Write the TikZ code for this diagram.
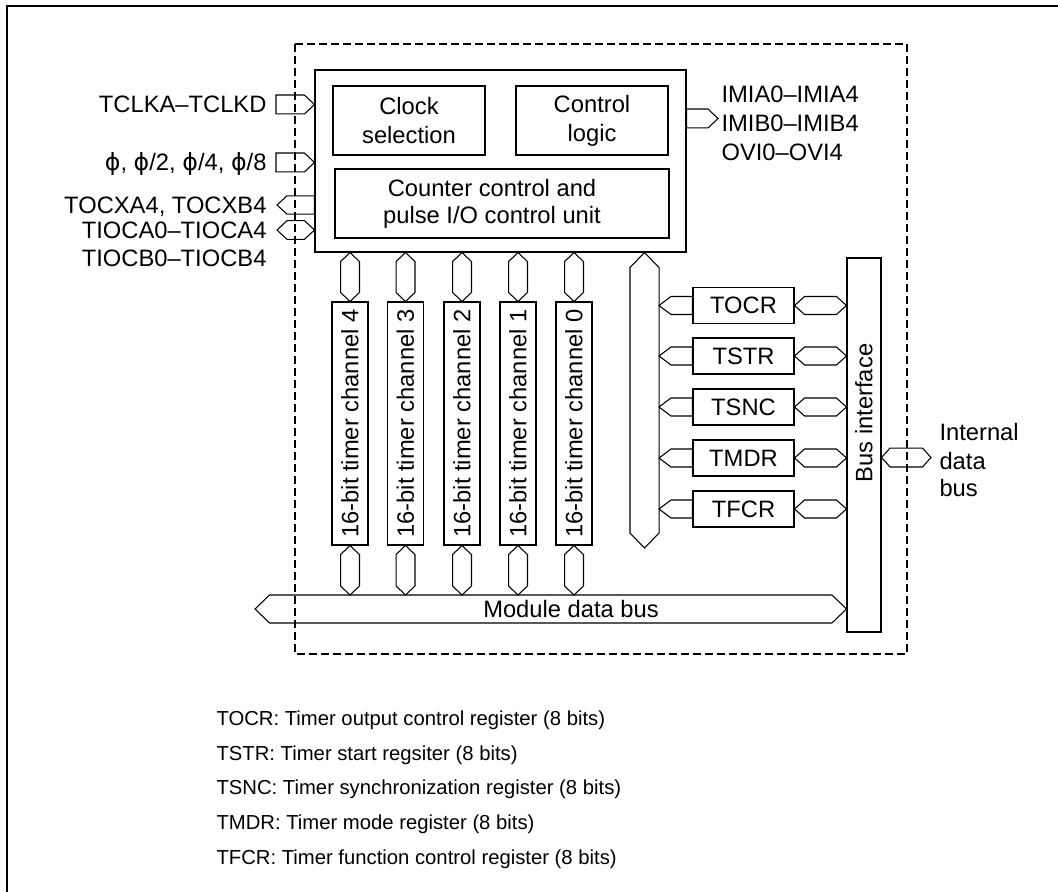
\documentclass[tikz,border=0pt]{standalone}
\usepackage{fontspec}
\setmainfont{Liberation Sans}
\newfontfamily\dvs{DejaVu Sans}
\usetikzlibrary{calc}
\newcommand\phisym{{\dvs ϕ}}
% bus-arrow shapes
\newcommand\rarr[4]{\draw[bus] let \p1=#1, \p2=#2 in (\x1,\y1+#3) -- (\x2-#4,\y1+#3) -- (\x2,\y1) -- (\x2-#4,\y1-#3) -- (\x1,\y1-#3) -- cycle;}
\newcommand\larr[4]{\draw[bus] let \p1=#1, \p2=#2 in (\x1,\y1) -- (\x1+#4,\y1+#3) -- (\x2,\y1+#3) -- (\x2,\y1-#3) -- (\x1+#4,\y1-#3) -- cycle;}
\newcommand\hdbl[4]{\draw[bus] let \p1=#1, \p2=#2 in (\x1,\y1) -- (\x1+#4,\y1+#3) -- (\x2-#4,\y1+#3) -- (\x2,\y1) -- (\x2-#4,\y1-#3) -- (\x1+#4,\y1-#3) -- cycle;}
\newcommand\vdbl[4]{\draw[bus] let \p1=#1, \p2=#2 in (\x1,\y1) -- (\x1+#3,\y1-#4) -- (\x1+#3,\y2+#4) -- (\x1,\y2) -- (\x1-#3,\y2+#4) -- (\x1-#3,\y1-#4) -- cycle;}
\begin{document}
\begin{tikzpicture}[x=0.75pt,y=-0.75pt,line width=0.8pt]
\tikzset{
  lbl/.style={font=\fontsize{17.8}{21.75}\selectfont, inner sep=0pt},
  box/.style={draw, inner sep=0pt, align=center, font=\fontsize{17.8}{21.75}\selectfont},
  wh/.style 2 args={minimum width=#1*0.75pt, minimum height=#2*0.75pt},
  bus/.style={draw, line width=0.8pt},
  note/.style={font=\fontsize{15.2}{18}\selectfont, anchor=base west, inner sep=0pt},
  lE/.style={lbl, anchor=base east},
  lW/.style={lbl, anchor=base west},
}
\useasboundingbox (0,0) rectangle (1058,892);
\draw (7,892) -- (7,6) -- (1058,6);
\draw[dash pattern=on 6pt off 3pt] (295,44) rectangle (907,654);

% control unit
\node[box, wh={371}{182}] (main) at (500.5,161) {};
\node[box, wh={152}{69}] (clk) at (409,120.5) {Clock\\selection};
\node[box, wh={152}{69}] (ctl) at (592,120.5) {Control\\logic};
\node[box, wh={334}{69}] (cnt) at (502,203.5) {};
\node[lbl, align=center, font=\fontsize{17.8}{20.25}\selectfont] (cnttxt) at (492,203.5) {Counter control and\\pulse I/O control unit};

% bus interface
\node[box, wh={34}{374}] (busif) at (864,445) {};
\node[lbl] (busiftxt) at (864,413) {\rotatebox{90}{Bus interface}};

% module data bus
\coordinate (mdbL) at (255,609);
\coordinate (mdbtop) at (0,595);
\hdbl{(mdbL)}{(busif.west |- mdbL)}{10.5pt}{10.9pt}
\node[lbl] (mdbtxt) at (571,609) {Module data bus};

% timer channels
\foreach \cn/\xx in {4/350,3/405.5,2/462,1/518,0/574} {
  \node[box, wh={36}{243}] (ch\cn) at (\xx,423.5) {\rotatebox{90}{16-bit timer channel \cn}};
  \vdbl{(main.south -| ch\cn.north)}{(ch\cn.north)}{7.1pt}{6.75pt}
  \vdbl{(ch\cn.south)}{(ch\cn.south |- mdbtop)}{7.1pt}{6.75pt}
}

% internal vertical bus
\coordinate (vbx) at (644.5,548);
\vdbl{(main.south -| vbx)}{(vbx)}{10.9pt}{11.25pt}
\coordinate (vbR) at (659,0);

% registers
\foreach \rg/\yy in {TOCR/305.5,TSTR/356,TSNC/407,TMDR/458,TFCR/509} {
  \node[box, wh={101}{36}] (\rg) at (743.5,\yy) {\rg};
  \larr{(vbR |- \rg.west)}{(\rg.west)}{6.75pt}{9pt}
  \hdbl{(\rg.east)}{(busif.west |- \rg.east)}{6.75pt}{7.5pt}
}

% left ports
\coordinate (pA) at (276,104.5);
\coordinate (pB) at (276,162.5);
\coordinate (pC) at (277,205);
\coordinate (pD) at (277,230);
\rarr{(pA)}{(main.west |- pA)}{7.1pt}{7.5pt}
\rarr{(pB)}{(main.west |- pB)}{7.1pt}{7.5pt}
\larr{(pC)}{(main.west |- pC)}{6.9pt}{7.5pt}
\hdbl{(pD)}{(main.west |- pD)}{7pt}{7.5pt}
\node[lE] (tA) at (267,113) {TCLKA–TCLKD};
\node[lE] (tB) at (267,171) {\phisym, \phisym/2, \phisym/4, \phisym/8};
\node[lE] (tC) at (267,213.6) {TOCXA4, TOCXB4};
\node[lE] (tD) at (267,238.6) {TIOCA0–TIOCA4};
\node[lE] (tE) at (267,266.6) {TIOCB0–TIOCB4};

% right port
\coordinate (pE) at (718,118.5);
\rarr{(main.east |- pE)}{(pE)}{7.1pt}{7.5pt}
\node[lW] (tF) at (721,102.6) {IMIA0–IMIA4};
\node[lW] (tG) at (721,131.6) {IMIB0–IMIB4};
\node[lW] (tH) at (721,160.6) {OVI0–OVI4};

% internal data bus
\coordinate (pF) at (931,457.5);
\hdbl{(busif.east |- pF)}{(pF)}{7.1pt}{6.4pt}
\node[lW] (tI) at (939,440.6) {Internal};
\node[lW] (tJ) at (939,469.6) {data};
\node[lW] (tK) at (939,496.6) {bus};

% legend
\node[note] (n1) at (216,725) {TOCR: Timer output control register (8 bits)};
\node[note] (n2) at (216,760) {TSTR: Timer start regsiter (8 bits)};
\node[note] (n3) at (216,794) {TSNC: Timer synchronization register (8 bits)};
\node[note] (n4) at (216,829) {TMDR: Timer mode register (8 bits)};
\node[note] (n5) at (216,864) {TFCR: Timer function control register (8 bits)};
\end{tikzpicture}
\end{document}
